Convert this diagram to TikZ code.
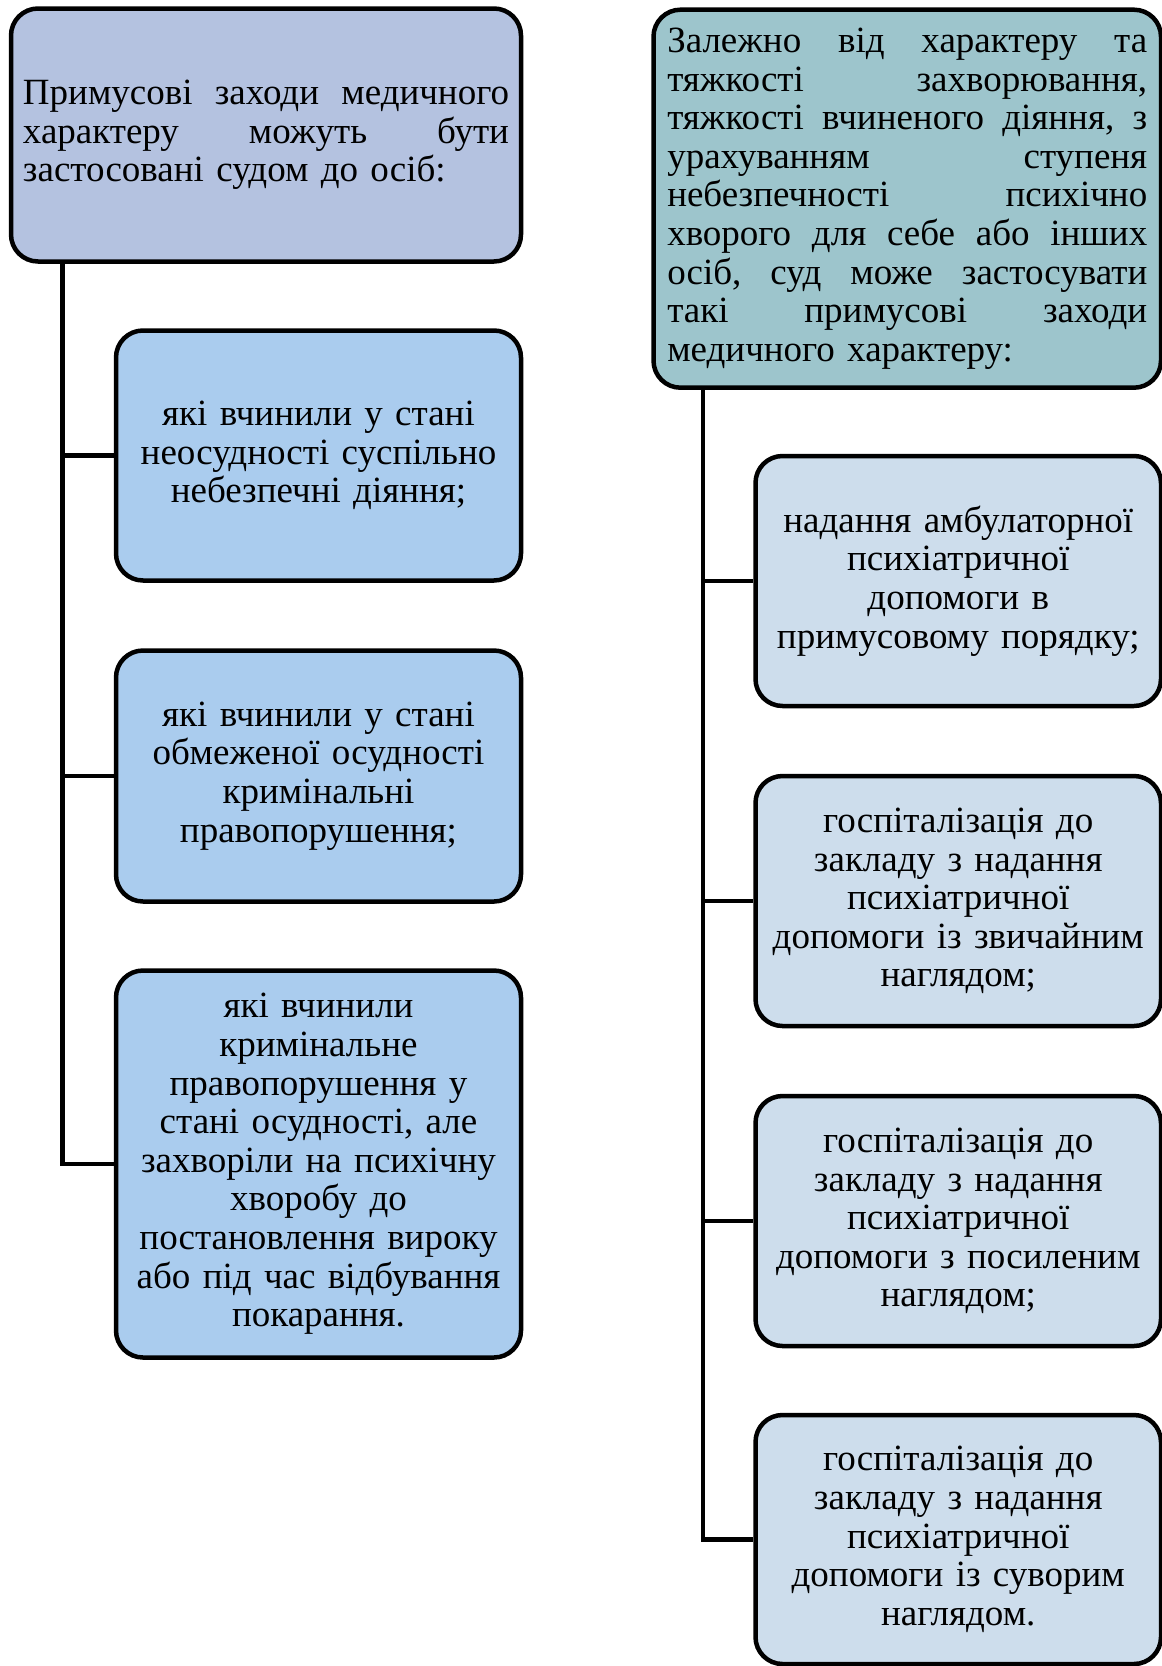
\documentclass[tikz,border=0pt]{standalone}
\usepackage{fontspec}
\setmainfont{Liberation Serif}
\definecolor{cTL}{RGB}{180,194,224}
\definecolor{cL}{RGB}{170,204,238}
\definecolor{cTR}{RGB}{157,197,204}
\definecolor{cR}{RGB}{205,221,236}
\begin{document}
\begin{tikzpicture}[x=1pt,y=-1pt,
  box/.style={draw=black, line width=4.5pt, rounded corners=27pt, inner sep=0pt,
    font=\fontsize{37}{38.6}\selectfont},
  topbox/.style={box, align=left},
  leftbox/.style={box, fill=cL, minimum width=405pt, text width=398pt, align=center},
  rightbox/.style={box, fill=cR, minimum width=405.5pt, minimum height=250pt, text width=398pt, align=center},
  conn/.style={draw=black, line width=4.5pt}]
\useasboundingbox (0,0) rectangle (1162,1666);
\fill[white] (0,0) rectangle (1162,1666);

\node[topbox, fill=cTL, minimum width=510pt, minimum height=253pt, text width=486pt] (tl) at (266,135)
 {Примусові\hfill заходи\hfill медичного\\ характеру\hfill можуть\hfill бути\\ застосовані судом до осіб:};

\node[leftbox, minimum height=250pt] (l1) at (318.5,455.5) {які вчинили у стані\\ неосудності суспільно\\ небезпечні діяння;};
\node[leftbox, minimum height=251pt] (l2) at (318.5,776) {які вчинили у стані\\ обмеженої осудності\\ кримінальні\\ правопорушення;};
\node[leftbox, minimum height=387pt] (l3) at (318.5,1164) {які вчинили\\ кримінальне\\ правопорушення у\\ стані осудності, але\\ захворіли на психічну\\ хворобу до\\ постановлення вироку\\ або під час відбування\\ покарання.};

\node[topbox, fill=cTR, minimum width=507.5pt, minimum height=378pt, text width=480pt] (tr) at (907.25,198.7)
 {Залежно\hfill від\hfill характеру\hfill та\\
  тяжкості\hfill захворювання,\\
  тяжкості\hfill вчиненого\hfill діяння,\hfill з\\
  урахуванням\hfill ступеня\\
  небезпечності\hfill психічно\\
  хворого\hfill для\hfill себе\hfill або\hfill інших\\
  осіб,\hfill суд\hfill може\hfill застосувати\\
  такі\hfill примусові\hfill заходи\\
  медичного характеру:};

\node[rightbox] (r1) at (958.25,581) {надання амбулаторної\\ психіатричної\\ допомоги в\\ примусовому порядку;};
\node[rightbox] (r2) at (958.25,901) {госпіталізація до\\ закладу з надання\\ психіатричної\\ допомоги із звичайним\\ наглядом;};
\node[rightbox] (r3) at (958.25,1221) {госпіталізація до\\ закладу з надання\\ психіатричної\\ допомоги з посиленим\\ наглядом;};
\node[rightbox, minimum height=249pt] (r4) at (958.25,1539.5) {госпіталізація до\\ закладу з надання\\ психіатричної\\ допомоги із суворим\\ наглядом.};

\coordinate (lt) at (62.7,0);
\coordinate (rt) at (703,0);

\draw[conn] (tl.south -| lt) |- (l3.west);
\draw[conn] (l1.west) -- (l1.west -| lt);
\draw[conn] (l2.west) -- (l2.west -| lt);

\draw[conn] (tr.south -| rt) |- (r4.west);
\draw[conn] (r1.west) -- (r1.west -| rt);
\draw[conn] (r2.west) -- (r2.west -| rt);
\draw[conn] (r3.west) -- (r3.west -| rt);
\end{tikzpicture}
\end{document}
